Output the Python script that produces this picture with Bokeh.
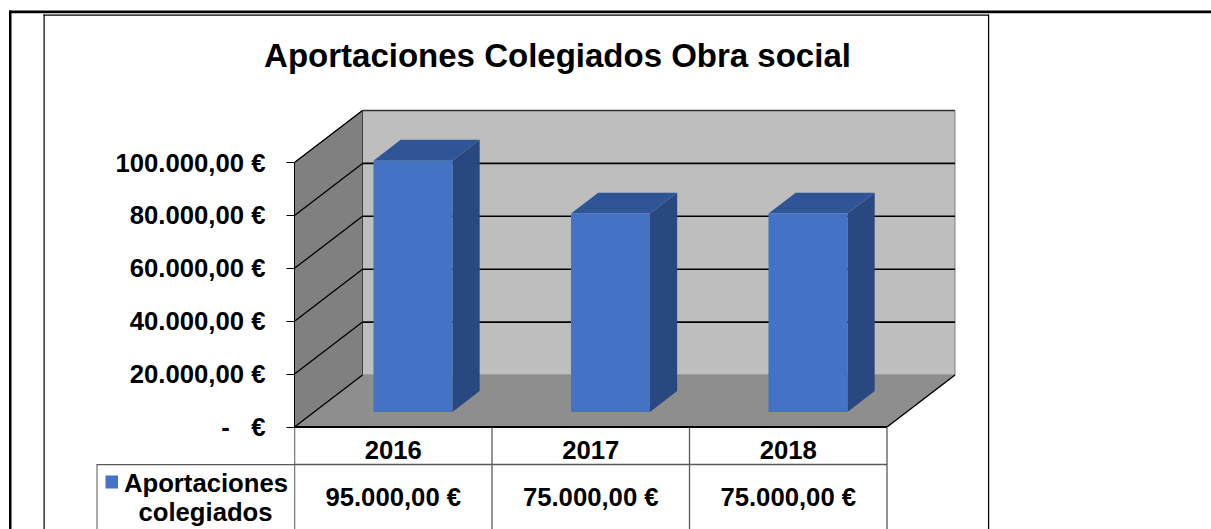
from bokeh.embed import file_html
from bokeh.layouts import column, row
from bokeh.resources import INLINE
from bokeh.plotting import figure
from bokeh.models import Range1d, FixedTicker
from bokeh.core.properties import value

TITLE = "Aportaciones Colegiados Obra social"
categories = ["2016", "2017", "2018"]
series_values = [95000, 75000, 75000]
value_labels = ["95.000,00 €", "75.000,00 €", "75.000,00 €"]
y_ticks = [0, 20000, 40000, 60000, 80000, 100000]
y_tick_labels = ["-\u00a0\u00a0\u00a0€", "20.000,00 €", "40.000,00 €", "60.000,00 €", "80.000,00 €", "100.000,00 €"]
legend_lines = ["Aportaciones", "colegiados"]

FONT = "Liberation Sans"
W, H = 1211, 529
X0, CAT_W = 294.0, 197.5      # window x of the front-left corner, width of a category
Y0, PX_PER = 426.5, 2.645 / 1000  # window y of value 0, pixels per euro
DX, DY = 68.0, 52.0           # oblique depth vector
BAR_W, D_FRONT, D_BACK = 0.40, 0.29, 0.69
TXT = "25.7px"

def wy(py):            # window pixel row -> value
    return (Y0 - py) / PX_PER
def xp(cat, depth=0.0):
    return cat + depth * DX / CAT_W
def yp(val, depth=0.0):
    return val + depth * DY / PX_PER

# Backdrop figure: page frames, title and the legend cell of the data table
bg = figure(width=W, height=H, output_backend="svg", toolbar_location=None,
            x_axis_location=None, y_axis_location=None,
            x_range=Range1d(0, W), y_range=Range1d(H, 0),
            min_border=0, background_fill_color="white", border_fill_color="white", outline_line_color=None)
bg.grid.visible = False

def box(l, r, t, b, color):
    bg.quad(left=[l], right=[r], top=[t], bottom=[b], fill_color=color, line_color=None)

box(8.5, 1211, 10, 12.7, "#000000")
box(8.5, 11, 10, 529, "#000000")
box(43, 44.2, 14, 529, "#000000")
box(43, 988.5, 14, 15.2, "#000000")
box(987.5, 988.7, 14, 529, "#000000")
box(96, 97, 464, 529, "#595959")
box(96, 294, 463.5, 464.8, "#595959")
box(105, 117.5, 475, 488, "#4472C4")

def lab(x, y, text, size):
    bg.text([x], [y], text=[text], text_font=value(FONT), text_font_style="bold", text_font_size=size,
            text_color="#000000", text_align="center", text_baseline="middle")

lab(557, 55, TITLE, "33px")
lab(205.5, 482, legend_lines[0], TXT)
lab(205, 511, legend_lines[1], TXT)

# Main figure, laid exactly over the backdrop
p = figure(width=W, height=H, output_backend="svg", toolbar_location=None,
           x_axis_location=None, y_axis_location="left",
           x_range=Range1d(0, (W - X0) / CAT_W),
           y_range=Range1d(wy(H), wy(0)),
           min_border_left=int(X0), min_border_right=0, min_border_top=0, min_border_bottom=0,
           background_fill_color=None, border_fill_color=None, outline_line_color=None,
           margin=(-H, 0, 0, 0))
p.grid.visible = False

ax = p.yaxis[0]
ax.ticker = FixedTicker(ticks=y_ticks)
ax.major_label_overrides = dict(zip(y_ticks, y_tick_labels))
ax.bounds = (0, max(y_ticks))
ax.major_tick_out = 8
ax.major_tick_in = 0
ax.minor_tick_out = 0
ax.minor_tick_in = 0
ax.major_tick_line_color = "#000000"
ax.axis_line_color = "#000000"
ax.major_label_standoff = 21
ax.major_label_text_font = FONT
ax.major_label_text_font_style = "bold"
ax.major_label_text_font_size = TXT
ax.major_label_text_color = "#000000"

n = len(categories)
top = max(y_ticks)
# back wall, side wall, floor
p.patch([xp(0, 1), xp(n, 1), xp(n, 1), xp(0, 1)], [yp(0, 1), yp(0, 1), yp(top, 1), yp(top, 1)],
        fill_color="#BEBEBE", line_color="#808080", line_width=1)
p.patch([xp(0), xp(0, 1), xp(0, 1), xp(0)], [yp(0), yp(0, 1), yp(top, 1), yp(top)],
        fill_color="#808080", line_color="#404040", line_width=1)
p.patch([xp(0), xp(n), xp(n, 1), xp(0, 1)], [yp(0), yp(0), yp(0, 1), yp(0, 1)],
        fill_color="#8E8E8E", line_color=None)

# gridlines on the two walls
for t in y_ticks:
    if t > 0:
        p.line([xp(0), xp(0, 1)], [yp(t), yp(t, 1)], line_color="#000000", line_width=1.3)
        p.line([xp(0, 1), xp(n, 1)], [yp(t, 1), yp(t, 1)], line_color="#000000" if t < top else "#303030", line_width=1.6)
p.line([xp(0), xp(0, 1)], [yp(0), yp(0, 1)], line_color="#000000", line_width=1.3)
p.line([xp(n), xp(n, 1)], [yp(0), yp(0, 1)], line_color="#000000", line_width=1.5)
p.line([xp(0), xp(n)], [yp(0), yp(0)], line_color="#000000", line_width=1.8)

# 3D bars
for i, v in enumerate(series_values):
    a, b = i + 0.5 - BAR_W / 2, i + 0.5 + BAR_W / 2
    p.patch([xp(b, D_FRONT), xp(b, D_BACK), xp(b, D_BACK), xp(b, D_FRONT)],
            [yp(0, D_FRONT), yp(0, D_BACK), yp(v, D_BACK), yp(v, D_FRONT)],
            fill_color="#2A4880", line_color=None)
    p.patch([xp(a, D_FRONT), xp(b, D_FRONT), xp(b, D_BACK), xp(a, D_BACK)],
            [yp(v, D_FRONT), yp(v, D_FRONT), yp(v, D_BACK), yp(v, D_BACK)],
            fill_color="#2F5597", line_color=None)
    p.patch([xp(a, D_FRONT), xp(b, D_FRONT), xp(b, D_FRONT), xp(a, D_FRONT)],
            [yp(0, D_FRONT), yp(0, D_FRONT), yp(v, D_FRONT), yp(v, D_FRONT)],
            fill_color="#4472C4", line_color=None)

# data table
ROW_LINE, BOTTOM = 464.0, 529.0
for i in range(n + 1):
    p.line([i, i], [wy(427), wy(BOTTOM)], line_color="#000000" if i == 0 else "#595959", line_width=1.3)
p.line([0, n], [wy(ROW_LINE), wy(ROW_LINE)], line_color="#595959", line_width=1.3)
cx = [i + 0.5 for i in range(n)]
p.text(cx, [wy(449.5)] * n, text=categories, text_align="center", text_baseline="middle",
       text_font=value(FONT), text_font_style="bold", text_font_size=TXT, text_color="#000000")
p.text(cx, [wy(496)] * n, text=value_labels, text_align="center", text_baseline="middle",
       text_font=value(FONT), text_font_style="bold", text_font_size=TXT, text_color="#000000")

page = column(row(bg, margin=0), p, spacing=0, margin=0)
open("out.html", "w").write(file_html(page, INLINE))
